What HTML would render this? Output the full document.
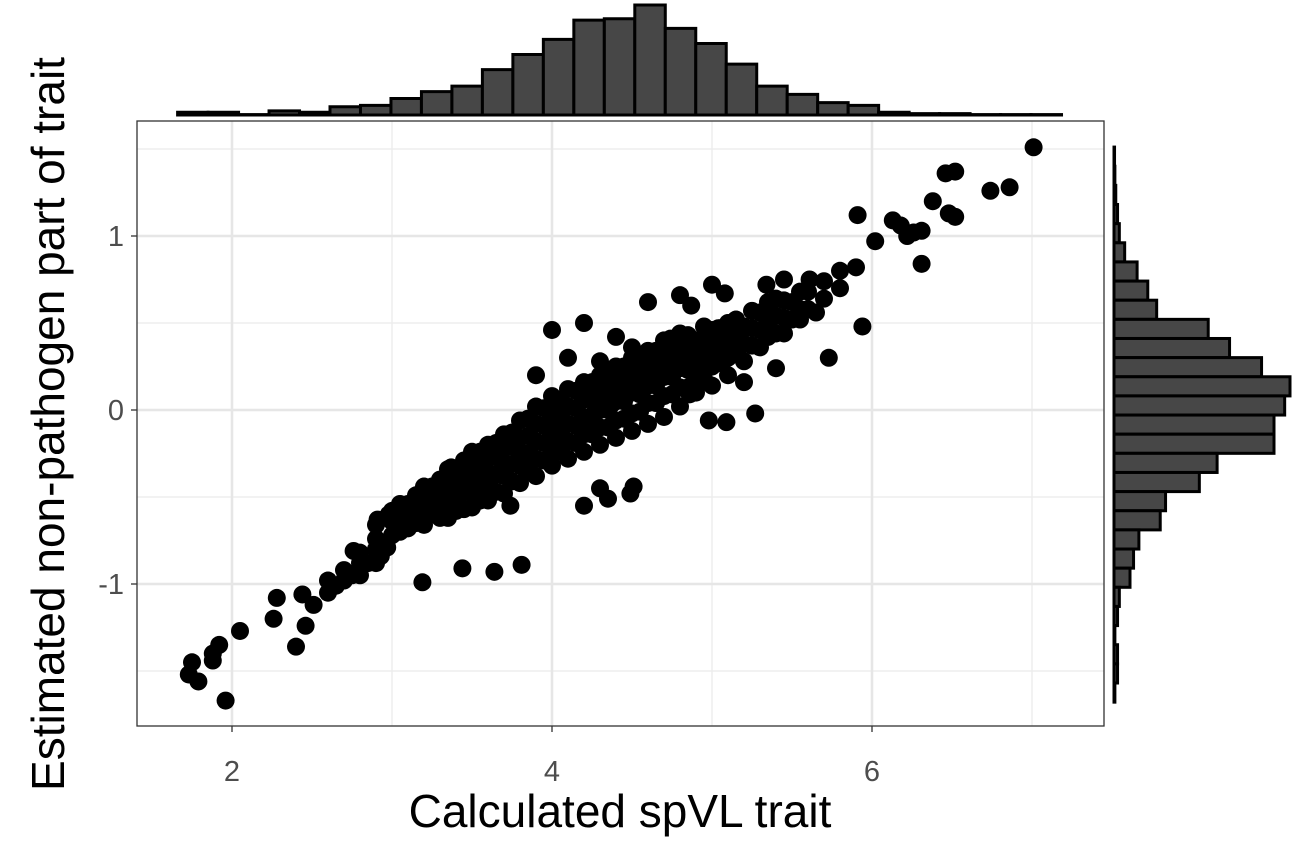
<!DOCTYPE html>
<html><head><meta charset="utf-8"><style>
html,body{margin:0;padding:0;background:#fff}
svg{display:block;font-family:"Liberation Sans",Arial,sans-serif}
</style></head><body>
<svg id="chart" width="1299" height="866" viewBox="0 0 1299 866" xmlns="http://www.w3.org/2000/svg">
<g id="grid"></g>
<g id="topHist"></g>
<g id="rightHist"></g>
<g id="points"></g>
<rect x="137" y="121" width="967" height="605" fill="none" stroke="#333" stroke-width="1.3"/>
<g id="axes"></g>
<text x="620" y="827" font-size="46" text-anchor="middle" fill="#000">Calculated spVL trait</text>
<text transform="translate(64,424) rotate(-90)" font-size="46" text-anchor="middle" fill="#000">Estimated non-pathogen part of trait</text>
</svg>
<script>
const xTicks=[2,4,6];
const xMinor=[3,5,7];
const yTicks=[-1,0,1];
const yMinor=[-1.5,-0.5,0.5,1.5];
const topCounts=[2,2,0.3,3,2,6,7,12,17,21,33,44,55,69,70,80,63,52,37,21,15,9,7,2,1,1,0.3,0.3,0.3];
const topStart=1.66, topBinW=0.1905;
const rightCounts=[0.3,0.5,1,2,3,6,13,19,24,53,65,83,99,96,90,90,58,48,29,26,14,11,9,3,2,0.5,2,2,0.5];
const rightStart=1.511, rightBinW=0.11;
const outX=[7.01,6.46,6.52,6.74,6.86,6.52,6.48,6.38,5.91,6.13,6.18,6.31,6.31,6.02,6.22,6.26,5.94,5.73,5.27,5.09,4.98,4.86,4.51,4.30,4.35,3.44,3.64,3.81,3.19,2.90,2.97,2.40,2.46,1.96,2.05,1.79,1.73,1.75,1.88,1.92,1.88,2.28,2.26,2.44,2.51,2.91,2.98,2.76,2.93,3.37,3.55,3.74,4.49,4.20,4.87,5.08,5.45,5.61,5.34,4.74,5.04,4.05,4.37];
const outY=[1.51,1.36,1.37,1.26,1.28,1.11,1.13,1.20,1.12,1.09,1.06,0.84,1.03,0.97,1.00,1.02,0.48,0.30,-0.02,-0.07,-0.06,0.09,-0.44,-0.45,-0.51,-0.91,-0.93,-0.89,-0.99,-0.66,-0.79,-1.36,-1.24,-1.67,-1.27,-1.56,-1.52,-1.45,-1.44,-1.35,-1.40,-1.08,-1.20,-1.06,-1.12,-0.63,-0.60,-0.81,-0.84,-0.33,-0.52,-0.55,-0.48,-0.55,0.60,0.67,0.75,0.75,0.72,0.41,0.47,0.01,0.09];
const bandX=[2.6,2.6,2.7,2.7,2.8,2.8,2.8,2.9,2.9,2.9,3.0,3.0,3.0,3.1,3.1,3.1,3.2,3.2,3.2,3.2,3.3,3.3,3.3,3.3,3.4,3.4,3.4,3.4,3.5,3.5,3.5,3.5,3.5,3.6,3.6,3.6,3.6,3.6,3.7,3.7,3.7,3.7,3.7,3.8,3.8,3.8,3.8,3.8,3.9,3.9,3.9,3.9,3.9,4.0,4.0,4.0,4.0,4.0,4.1,4.1,4.1,4.1,4.1,4.2,4.2,4.2,4.2,4.2,4.3,4.3,4.3,4.3,4.3,4.4,4.4,4.4,4.4,4.4,4.5,4.5,4.5,4.5,4.5,4.6,4.6,4.6,4.6,4.6,4.7,4.7,4.7,4.7,4.7,4.8,4.8,4.8,4.8,4.8,4.9,4.9,4.9,4.9,5.0,5.0,5.0,5.0,5.1,5.1,5.1,5.1,5.2,5.2,5.2,5.3,5.3,5.3,5.4,5.4,5.4,5.5,5.5,5.6,5.6,5.7,5.7,5.8,5.8,5.9,4.0,4.2,4.4,4.6,4.8,5.0,5.2,5.4,4.1,4.3,4.5,3.9,5.45,5.55,5.65];
const bandY=[-1.05,-0.98,-0.98,-0.92,-0.95,-0.88,-0.82,-0.88,-0.80,-0.74,-0.72,-0.64,-0.58,-0.68,-0.60,-0.54,-0.66,-0.58,-0.50,-0.44,-0.62,-0.54,-0.46,-0.40,-0.58,-0.50,-0.42,-0.34,-0.56,-0.48,-0.40,-0.32,-0.24,-0.52,-0.44,-0.36,-0.28,-0.20,-0.48,-0.38,-0.30,-0.22,-0.14,-0.42,-0.32,-0.24,-0.16,-0.06,-0.38,-0.28,-0.18,-0.08,0.02,-0.32,-0.22,-0.12,-0.02,0.08,-0.28,-0.18,-0.08,0.02,0.12,-0.24,-0.14,-0.04,0.06,0.16,-0.20,-0.10,0.00,0.10,0.20,-0.16,-0.06,0.05,0.15,0.25,-0.12,-0.02,0.10,0.20,0.30,-0.08,0.04,0.14,0.24,0.34,-0.04,0.08,0.19,0.30,0.40,0.02,0.13,0.24,0.34,0.44,0.10,0.20,0.30,0.40,0.14,0.25,0.35,0.46,0.20,0.30,0.40,0.50,0.28,0.38,0.48,0.36,0.46,0.56,0.44,0.54,0.64,0.52,0.62,0.58,0.68,0.64,0.74,0.70,0.80,0.82,0.46,0.50,0.42,0.62,0.66,0.72,0.16,0.24,0.30,0.28,0.36,0.20,0.44,0.52,0.56];
const fillX=[3.05,3.05,3.05,3.15,3.15,3.15,3.25,3.25,3.25,3.35,3.35,3.35,3.35,3.45,3.45,3.45,3.45,3.55,3.55,3.55,3.55,3.65,3.65,3.65,3.65,3.75,3.75,3.75,3.75,3.85,3.85,3.85,3.85,3.95,3.95,3.95,3.95,4.05,4.05,4.05,4.05,4.15,4.15,4.15,4.15,4.25,4.25,4.25,4.25,4.35,4.35,4.35,4.35,4.45,4.45,4.45,4.45,4.55,4.55,4.55,4.55,4.65,4.65,4.65,4.65,4.75,4.75,4.75,4.75,4.85,4.85,4.85,4.85,4.95,4.95,4.95,4.95,5.05,5.05,5.05,5.15,5.15,5.15,5.25,5.25,5.25,5.35,5.35,5.35,5.45,5.45,5.55,5.55,2.65,2.75,2.85,2.95,4.22,4.27,4.32,4.37,4.42,4.47,4.52,4.57,4.62,4.67,4.72,4.77,4.82,4.87,4.92,4.97,5.02,5.07,5.12,5.17,4.22,4.32,4.42,4.52,4.62,4.72,4.82,4.92,5.02,5.12];
const fillY=[-0.70,-0.62,-0.54,-0.65,-0.57,-0.49,-0.60,-0.52,-0.44,-0.62,-0.52,-0.42,-0.34,-0.57,-0.47,-0.37,-0.29,-0.52,-0.42,-0.32,-0.24,-0.47,-0.37,-0.27,-0.19,-0.41,-0.31,-0.21,-0.13,-0.35,-0.25,-0.15,-0.05,-0.29,-0.19,-0.09,0.01,-0.24,-0.14,-0.04,0.06,-0.19,-0.09,0.01,0.11,-0.14,-0.04,0.06,0.16,-0.10,0.00,0.10,0.20,-0.05,0.05,0.15,0.25,-0.01,0.09,0.19,0.29,0.04,0.14,0.24,0.34,0.09,0.19,0.29,0.39,0.13,0.23,0.33,0.43,0.18,0.28,0.38,0.48,0.27,0.37,0.47,0.32,0.42,0.52,0.37,0.47,0.57,0.42,0.52,0.62,0.53,0.63,0.58,0.68,-1.01,-0.95,-0.88,-0.78,-0.09,-0.01,0.01,0.03,0.07,0.09,0.11,0.14,0.16,0.18,0.21,0.24,0.26,0.28,0.31,0.33,0.36,0.38,0.41,0.43,0.09,0.13,0.17,0.21,0.26,0.31,0.36,0.40,0.44,0.50];

const X=v=>232+(v-2)*160;
const Y=v=>410-v*174;
const NS='http://www.w3.org/2000/svg';
function mk(tag,parent){const e=document.createElementNS(NS,tag);document.getElementById(parent).appendChild(e);return e;}

xMinor.forEach(v=>{const l=mk('line','grid');


l.setAttribute('x1',X(v));l.setAttribute('x2',X(v));l.setAttribute('y1',121);l.setAttribute('y2',726);l.setAttribute('stroke','#ebebeb');l.setAttribute('stroke-width','1.3');});
yMinor.forEach(v=>{const l=mk('line','grid');


l.setAttribute('y1',Y(v));l.setAttribute('y2',Y(v));l.setAttribute('x1',137);l.setAttribute('x2',1104);l.setAttribute('stroke','#ebebeb');l.setAttribute('stroke-width','1.3');});
xTicks.forEach(v=>{const l=mk('line','grid');


l.setAttribute('x1',X(v));l.setAttribute('x2',X(v));l.setAttribute('y1',121);l.setAttribute('y2',726);l.setAttribute('stroke','#e6e6e6');l.setAttribute('stroke-width','2.6');
const t=mk('line','axes');


t.setAttribute('x1',X(v));t.setAttribute('x2',X(v));t.setAttribute('y1',726);t.setAttribute('y2',732);t.setAttribute('stroke','#333');t.setAttribute('stroke-width','1.3');
const s=mk('text','axes');


s.setAttribute('x',X(v));s.setAttribute('y',781);s.setAttribute('font-size','29');s.setAttribute('text-anchor','middle');s.setAttribute('fill','#4d4d4d');s.textContent=v;});
yTicks.forEach(v=>{const l=mk('line','grid');


l.setAttribute('y1',Y(v));l.setAttribute('y2',Y(v));l.setAttribute('x1',137);l.setAttribute('x2',1104);l.setAttribute('stroke','#e6e6e6');l.setAttribute('stroke-width','2.6');
const t=mk('line','axes');


t.setAttribute('y1',Y(v));t.setAttribute('y2',Y(v));t.setAttribute('x1',131);t.setAttribute('x2',137);t.setAttribute('stroke','#333');t.setAttribute('stroke-width','1.3');
const s=mk('text','axes');


s.setAttribute('x',124);s.setAttribute('y',Y(v)+10);s.setAttribute('font-size','29');s.setAttribute('text-anchor','end');s.setAttribute('fill','#4d4d4d');s.textContent=v;});

const topK=110/Math.max(...topCounts);
topCounts.forEach((c,i)=>{const r=mk('rect','topHist');


const x0=X(topStart+i*topBinW),x1=X(topStart+(i+1)*topBinW),h=c*topK;
r.setAttribute('x',x0);r.setAttribute('width',x1-x0);r.setAttribute('y',115-h);r.setAttribute('height',h);
r.setAttribute('fill','#474747');r.setAttribute('stroke','#000');r.setAttribute('stroke-width','3');});
const rightK=176/Math.max(...rightCounts);
rightCounts.forEach((c,i)=>{const r=mk('rect','rightHist');


const y0=Y(rightStart-i*rightBinW),y1=Y(rightStart-(i+1)*rightBinW),w=c*rightK;
r.setAttribute('x',1114);r.setAttribute('width',w);r.setAttribute('y',y0);r.setAttribute('height',y1-y0);
r.setAttribute('fill','#474747');r.setAttribute('stroke','#000');r.setAttribute('stroke-width','3');});

function dot(x,y){const c=mk('circle','points');


c.setAttribute('cx',X(x));c.setAttribute('cy',Y(y));c.setAttribute('r',9);c.setAttribute('fill','#000');}
bandX.forEach((x,i)=>dot(x,bandY[i]));
fillX.forEach((x,i)=>dot(x,fillY[i]));
outX.forEach((x,i)=>dot(x,outY[i]));
</script>
</body></html>
